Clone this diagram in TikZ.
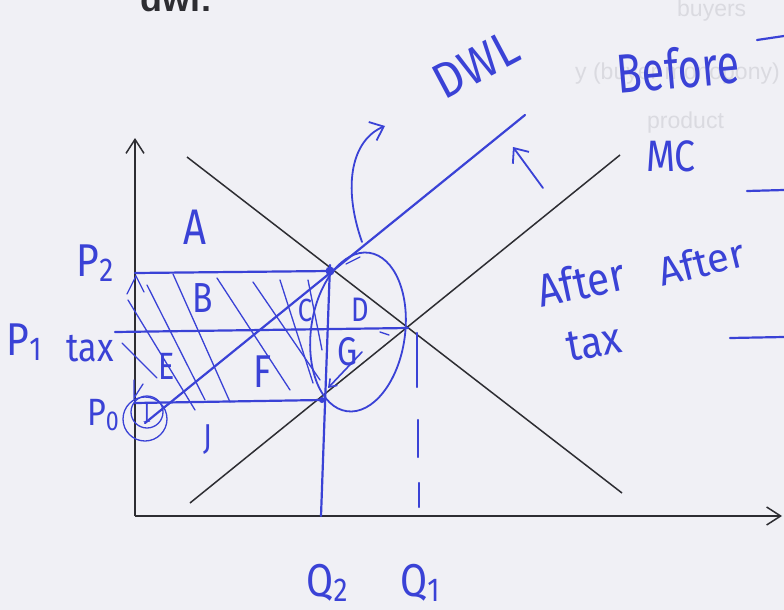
\documentclass[tikz,border=0pt]{standalone}
\usepackage{fontspec}
\usetikzlibrary{arrows.meta}
\newfontfamily\handfont{Fira Sans}
\newfontfamily\printfont{Liberation Sans}
\definecolor{ink}{RGB}{58,66,214}
\definecolor{paper}{RGB}{240,240,245}
\definecolor{pen}{RGB}{45,45,50}
\definecolor{ghost}{RGB}{218,218,224}
\newcommand\hsz[1]{\handfont\fontsize{#1}{#1}\selectfont}
\newcommand\nx[2]{\scalebox{#1}[1]{#2}}
\newcommand\sbs[1]{\raisebox{-0.12em}{\scalebox{0.72}{#1}}}
\begin{document}
\begin{tikzpicture}[x=1pt,y=-1pt,
  axisline/.style={draw=pen,line width=1.5pt,-{Straight Barb[length=14pt,width=18pt,line width=1.5pt]}},
  curveline/.style={draw=pen,line width=1.5pt},
  penline/.style={draw=ink,line width=2.2pt,line cap=round,line join=round},
  hatchline/.style={draw=ink,line width=1.3pt,line cap=round},
  lab/.style={text=ink,inner sep=0pt,font=\hsz{#1}},
  ghosttext/.style={text=ghost,inner sep=0pt,anchor=base west,font=\printfont\fontsize{#1}{#1}\selectfont},
]
\fill[paper] (0,0) rectangle (784,610);
\useasboundingbox (0,0) rectangle (784,610);

% faint show-through text
\node[ghosttext=23] (g1) at (677,17) {buyers};
\node[ghosttext=23] (g2) at (575,80) {y (buyer monopony)};
\node[ghosttext=23] (g3) at (647,128) {product};
\node[anchor=base west,inner sep=0pt,text=pen,font=\printfont\bfseries\fontsize{36}{36}\selectfont] (dwl) at (140,12) {dwl:};

% key points
\coordinate (O) at (135,516);
\coordinate (ytop) at (135,138);
\coordinate (xend) at (782,516);
\coordinate (d1) at (187,157);
\coordinate (d2) at (622,493);
\coordinate (s1) at (190,503);
\coordinate (s2) at (620,155);
\coordinate (b1) at (145,423);
\coordinate (b2) at (525,115);
\coordinate (p2l) at (135,273);
\coordinate (p2r) at (330,271);
\coordinate (p1l) at (115,332);
\coordinate (p1r) at (408,328);
\coordinate (p0l) at (135,403);
\coordinate (p0r) at (322,400);
\coordinate (q2t) at (330,265);
\coordinate (q2b) at (321,516);

% axes and black curves
\draw[axisline] (O) -- (ytop);
\draw[axisline] (O) -- (xend);
\draw[curveline] (d1) -- (d2);
\draw[curveline] (s1) -- (s2);

% blue lines
\draw[penline] (b1) -- (b2);
\draw[penline] (p2l) -- (p2r);
\draw[penline] (p1l) -- (p1r);
\draw[penline] (p0l) -- (p0r);
\draw[penline] (q2t) -- (q2b);
\draw[penline] (417,333) -- (417,387);
\draw[penline] (418,420) -- (418,457);
\draw[penline] (419,483) -- (419,507);
\fill[ink] (p2r) circle (4.5);
\fill[ink] (p0r) circle (3);

% hatching
\draw[hatchline] (128,300) -- (195,410);
\draw[hatchline] (147,285) -- (205,400);
\draw[hatchline] (173,274) -- (230,402);
\draw[hatchline] (217,278) -- (290,390);
\draw[hatchline] (253,282) -- (320,380);
\draw[hatchline] (280,280) -- (313,383);
\draw[hatchline] (308,280) -- (322,350);
\draw[hatchline] (122,343) -- (157,378);
% small tax arrows on the price axis
\draw[hatchline] (127,294) -- (136,276) -- (144,292);
\draw[hatchline] (134,380) -- (134,398) -- (143,384);

% DWL ellipse and arrows
\draw[penline,line width=1.8pt,rotate around={-8:(358,332)}] (358,332) ellipse [x radius=47, y radius=80];
\draw[penline,line width=1.6pt,-{Straight Barb[length=7pt,width=10pt]}] (362,352) -- (328,388);
\draw[hatchline] (380,332) -- (389,335);
\draw[hatchline] (346,264) -- (360,257);
\draw[penline,line width=1.8pt,-{Straight Barb[length=12pt,width=20pt,line width=1.8pt]}] (362,242) .. controls (342,185) and (352,140) .. (385,126);
\draw[penline,line width=1.8pt,-{Straight Barb[length=12pt,width=20pt,line width=1.8pt]}] (543,188) -- (513,147);

% blue dashes on the right edge
\draw[penline] (757,40) -- (784,36);
\draw[penline] (747,191) -- (784,190);
\draw[penline] (730,338) -- (784,337);

% circled I at P0
\draw[ink,line width=1.3pt] (145,419) circle (22);
\draw[ink,line width=1.3pt] (147,412) circle (16);
\node[text=ink,inner sep=0pt,font=\rmfamily\fontsize{28}{28}\selectfont] (Ilab) at (147,413) {I};

% labels
\node[lab=50] (A) at (195,227) {\nx{0.8}{A}};
\node[lab=42] (B) at (203,298) {\nx{0.8}{B}};
\node[lab=32] (C) at (305,310) {\nx{0.8}{C}};
\node[lab=34] (D) at (360,310) {\nx{0.8}{D}};
\node[lab=38] (E) at (167,366) {\nx{0.8}{E}};
\node[lab=46] (F) at (263,372) {\nx{0.8}{F}};
\node[lab=40] (G) at (348,352) {\nx{0.8}{G}};
\node[lab=36] (J) at (208,440) {\nx{0.8}{J}};
\node[lab=46] (P2) at (95,263) {\nx{0.85}{P\sbs{2}}};
\node[lab=46] (P1) at (24,342) {\nx{0.85}{P\sbs{1}}};
\node[lab=40] (tax1) at (90,349) {\nx{0.85}{tax}};
\node[lab=38] (P0) at (103,415) {\nx{0.85}{P\sbs{0}}};
\node[lab=46] (Q2) at (327,583) {\nx{0.85}{Q\sbs{2}}};
\node[lab=46] (Q1) at (420,583) {\nx{0.85}{Q\sbs{1}}};
\node[lab=50,rotate=28] (DWL) at (476,65) {\nx{0.9}{DWL}};
\node[lab=55,rotate=5] (before) at (678,68) {\nx{0.75}{Before}};
\node[lab=44] (MC) at (671,156) {\nx{0.85}{MC}};
\node[lab=46,rotate=12] (after1) at (581,282) {\nx{0.88}{After}};
\node[lab=40,rotate=14] (after2) at (701,262) {After};
\node[lab=44,rotate=10] (tax2) at (594,343) {\nx{0.9}{tax}};
\end{tikzpicture}
\end{document}
